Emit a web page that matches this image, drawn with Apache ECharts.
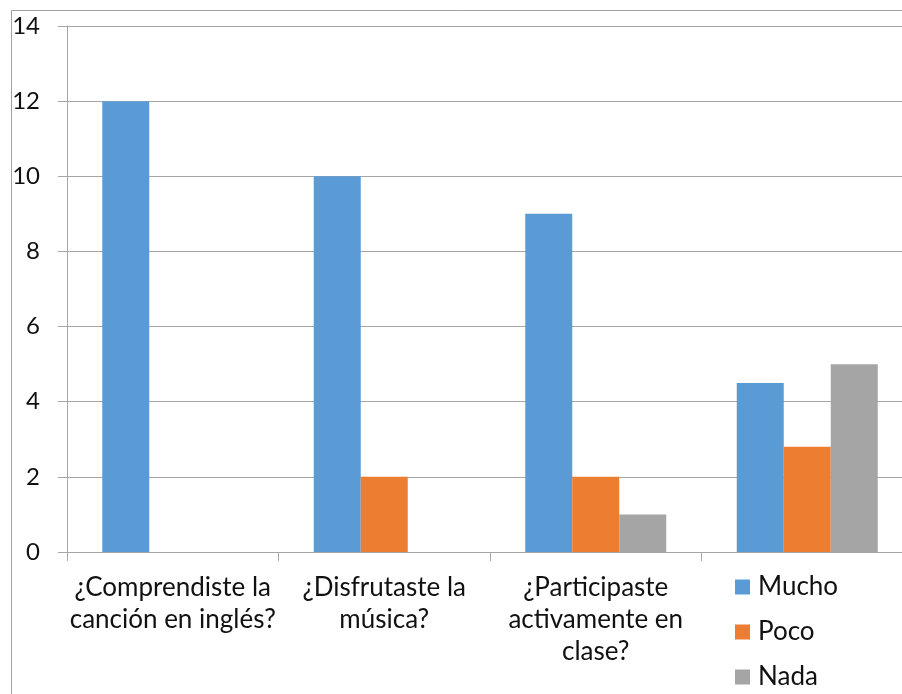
<!DOCTYPE html>
<html>
<head>
<meta charset="utf-8">
<script src="https://cdn.jsdelivr.net/npm/echarts@6/dist/echarts.min.js"></script>
<style>
  html, body { margin: 0; padding: 0; background: #fff; }
  #chart { width: 902px; height: 694px; }
</style>
</head>
<body>
<div id="chart"></div>
<script>
// Survey answers per question
const categories = [
  '¿Comprendiste la\ncanción en inglés?',
  '¿Disfrutaste la\nmúsica?',
  '¿Participaste\nactivamente en\nclase?',
  ''
];
const mucho = [12, 10, 9, 4.5];
const poco = [0, 2, 2, 2.8];
const nada = [0, 0, 1, 5];
const yTicks = { min: 0, max: 14, interval: 2 };

const font = 'Lato, "Open Sans", sans-serif';
const lineColor = '#a6a6a6';
const textColor = '#111';

const chart = echarts.init(document.getElementById('chart'), null, { renderer: 'canvas' });
chart.setOption({
  animation: false,
  textStyle: { fontFamily: font },
  graphic: [{
    type: 'rect',
    shape: { x: 11.5, y: 10.5, width: 1000, height: 1000 },
    style: { fill: 'none', stroke: '#a0a0a0', lineWidth: 1 },
    silent: true
  }],
  // the plot area runs past the right edge of the page
  grid: { left: 67, top: 26, width: 846, height: 526, containLabel: false, outerBoundsMode: 'none' },
  legend: {
    orient: 'vertical',
    left: 735,
    top: 572,
    height: 140,
    padding: 0,
    itemWidth: 15,
    itemHeight: 15,
    itemGap: 15,
    icon: 'rect',
    textStyle: { fontSize: 26, color: textColor, fontFamily: font, lineHeight: 30, padding: [0, 0, 0, 3] },
    data: ['Mucho', 'Poco', 'Nada']
  },
  xAxis: {
    type: 'category',
    data: categories,
    axisLine: { lineStyle: { color: lineColor } },
    axisTick: { show: true, length: 9, lineStyle: { color: lineColor } },
    axisLabel: {
      interval: 0,
      fontSize: 26,
      lineHeight: 32,
      color: textColor,
      margin: 20,
      fontFamily: font
    }
  },
  yAxis: {
    type: 'value',
    min: yTicks.min,
    max: yTicks.max,
    interval: yTicks.interval,
    axisLine: { show: true, lineStyle: { color: lineColor } },
    axisTick: { show: true, length: 9, lineStyle: { color: lineColor } },
    splitLine: { lineStyle: { color: lineColor } },
    axisLabel: { fontSize: 24, color: textColor, margin: 27, fontFamily: font }
  },
  series: [
    { name: 'Mucho', type: 'bar', data: mucho, barWidth: 47, barGap: '0%', itemStyle: { color: '#5B9BD5' } },
    { name: 'Poco', type: 'bar', data: poco, barWidth: 47, barGap: '0%', itemStyle: { color: '#ED7D31' } },
    { name: 'Nada', type: 'bar', data: nada, barWidth: 47, barGap: '0%', itemStyle: { color: '#A5A5A5' } }
  ]
});
</script>
</body>
</html>
